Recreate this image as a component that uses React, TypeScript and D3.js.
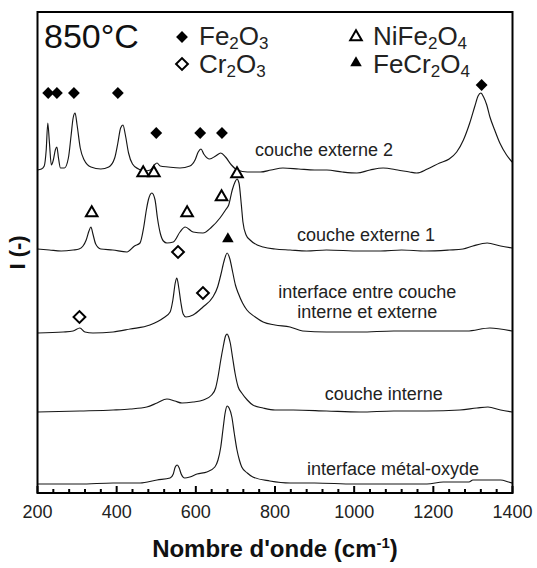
import React from "react";
import * as d3 from "d3";

// ---- data (wavenumber cm-1, stacked intensity a.u.) ----
const externe2: [number, number][] = [
  [200,323],[210,324],[217,327],[222,343],[226,370],[230,351],[235,328],[240,333],[245,343],[249,346],[253,335],[258,325],[268,325],[278,335],[285,358],[290,375],[295,380],[300,368],[308,345],[318,333],[335,326],[360,324],[380,326],[395,335],[403,350],[410,365],[416,368],[422,358],[430,340],[440,329],[455,324],[470,322],[485,323],[495,328],[502,330],[510,327],[530,326],[560,325],[585,327],[598,333],[606,341],[613,344],[620,339],[635,334],[650,337],[663,340],[675,336],[690,328],[705,323],[730,321],[763,321],[790,323],[820,325],[860,324],[900,323],[931,323],[970,321],[1007,320],[1040,323],[1073,325],[1110,323],[1140,321],[1158,320],[1185,324],[1216,330],[1240,334],[1259,341],[1276,353],[1292,370],[1305,387],[1313,397],[1320,400],[1327,396],[1335,388],[1343,376],[1355,363],[1368,350],[1385,338],[1399,331]
];
const externe1: [number, number][] = [
  [200,244],[230,243],[260,242],[290,243],[305,244],[315,247],[323,253],[330,262],[335,266],[340,259],[347,249],[360,244],[390,243],[426,241],[445,247],[459,250],[468,265],[475,283],[480,293],[489,300],[497,293],[503,275],[510,260],[518,252],[527,250],[543,251],[560,261],[573,266],[593,261],[618,260],[640,266],[661,275],[675,283],[683,288],[692,303],[699,311],[704,314],[709,310],[715,288],[719,271],[727,258],[737,253],[755,248],[770,246],[800,244],[838,243],[880,242],[930,243],[1015,242],[1067,242],[1120,243],[1180,242],[1240,243],[1275,244],[1300,247],[1336,250],[1370,247],[1399,245]
];
const interfaceIE: [number, number][] = [
  [200,160],[265,161],[290,162],[307,165],[320,161],[340,160],[391,161],[434,164],[484,168],[518,175],[535,181],[542,193],[548,210],[552,215],[557,205],[562,191],[568,179],[575,176],[593,178],[618,186],[643,196],[655,206],[663,218],[672,233],[679,240],[686,234],[693,221],[700,208],[707,200],[718,190],[729,183],[750,176],[770,171],[800,168],[838,166],[870,162],[930,161],[1015,161],[1100,162],[1184,162],[1285,162],[1343,165],[1399,162]
];
const interne: [number, number][] = [
  [200,81],[307,82],[391,83],[434,84],[476,86],[502,90],[527,94],[547,92],[565,90],[593,91],[619,93],[640,98],[650,105],[656,116],[663,133],[669,146],[675,157],[679,159],[683,156],[687,150],[693,135],[699,120],[707,106],[716,100],[730,93],[744,88],[770,85],[800,83],[846,83],[930,82],[1015,81],[1100,82],[1184,82],[1267,83],[1310,85],[1338,86],[1370,83],[1399,81]
];
const metalOxyde: [number, number][] = [
  [200,9],[307,9],[391,10],[459,10],[502,13],[535,15],[543,19],[548,26],[553,28],[558,25],[563,19],[572,15],[585,16],[603,19],[628,21],[648,26],[656,33],[663,46],[669,65],[674,80],[679,87],[684,85],[691,76],[697,60],[704,43],[710,33],[716,26],[730,20],[744,16],[787,12],[838,10],[900,10],[1000,9],[1100,9],[1184,9],[1225,11],[1290,11],[1300,13],[1370,13],[1390,11],[1399,10]
];
const spectra = [externe2, externe1, interfaceIE, interne, metalOxyde];

const fe2o3Marks: [number, number][] = [[227,400],[249,400],[292,400],[403,400],[500,360],[611,360],[666,360],[1322,408]];
const nife2o4Marks: [number, number][] = [[467,320],[494,320],[704,319],[665,296],[337,280],[578,280]];
const cr2o3Marks: [number, number][] = [[306,176],[555,241],[618,200]];
const fecr2o4Marks: [number, number][] = [[681,254]];

const spectrumLabels: { lines: string[]; x: number; y: number }[] = [
  { lines: ["couche externe 2"], x: 924, y: 337 },
  { lines: ["couche externe 1"], x: 1030, y: 252 },
  { lines: ["interface entre couche", "interne et externe"], x: 1033, y: 195 },
  { lines: ["couche interne"], x: 1075, y: 93 },
  { lines: ["interface métal-oxyde"], x: 1098, y: 18 },
];

const xTicks = [200, 400, 600, 800, 1000, 1200, 1400];
const xDomain: [number, number] = [200, 1400];
const yDomain: [number, number] = [0, 481];

const FONT = "'Liberation Sans', Arial, sans-serif";

export default function App() {
  const W = 537, H = 568;
  const m = { left: 37.5, right: 24.5, top: 12, bottom: 75 };
  const x = d3.scaleLinear().domain(xDomain).range([m.left, W - m.right]);
  const y = d3.scaleLinear().domain(yDomain).range([H - m.bottom, m.top]);
  const line = d3.line<[number, number]>().x(d => x(d[0])).y(d => y(d[1])).curve(d3.curveMonotoneX);
  const minor = d3.range(200, 1401, 40);
  const sq = d3.symbol().type(d3.symbolSquare).size(70)()!;
  const tri = d3.symbol().type(d3.symbolTriangle).size(58)()!;

  const diamond = (cx: number, cy: number, filled: boolean, k: string) => (
    <path key={k} d={sq} transform={`translate(${cx},${cy}) rotate(45)`} fill={filled ? "#000" : "#fff"} stroke="#000" strokeWidth={filled ? 0 : 2} />
  );
  const triangle = (cx: number, cy: number, filled: boolean, k: string) => (
    <path key={k} d={tri} transform={`translate(${cx},${cy})`} fill={filled ? "#000" : "#fff"} stroke="#000" strokeWidth={filled ? 0 : 2} strokeLinejoin="miter" />
  );

  const chem = (parts: [string, boolean][]) =>
    parts.map(([t, s], i) => (
      <tspan key={i} fontSize={s ? 17 : 26} dy={s ? 4 : (i > 0 && parts[i - 1][1] ? -4 : 0)}>{t}</tspan>
    ));

  const lblX = (l: { x: number }) => x(l.x);

  return (
    <svg width={W} height={H} style={{ position: "absolute", left: 0, top: 0, background: "#fff" }} fontFamily={FONT}>
      <rect width={W} height={H} fill="#fff" />
      {spectra.map((s, i) => (
        <path key={i} d={line(s)!} fill="none" stroke="#161616" strokeWidth={1.15} strokeLinejoin="round" />
      ))}
      {minor.map(t => (
        <line key={t} x1={x(t)} x2={x(t)} y1={y(0)} y2={y(0) - (t % 200 === 0 ? 7 : 4)} stroke="#000" strokeWidth={2} />
      ))}
      <rect x={m.left} y={m.top} width={W - m.left - m.right} height={H - m.top - m.bottom} fill="none" stroke="#000" strokeWidth={2} />
      {xTicks.map(t => (
        <text key={t} x={x(t)} y={y(0) + 25} textAnchor="middle" fontSize={18} fill="#222">{t}</text>
      ))}
      <text x={(m.left + W - m.right) / 2} y={557} textAnchor="middle" fontSize={24} fontWeight="bold" fill="#111">
        Nombre d'onde (cm<tspan fontSize={15} dy={-9}>-1</tspan><tspan dy={9}>)</tspan>
      </text>
      <text transform={`translate(25,${(m.top + H - m.bottom) / 2}) rotate(-90)`} textAnchor="middle" fontSize={22} fontWeight="bold" fill="#111">I (-)</text>

      {fe2o3Marks.map((d, i) => diamond(x(d[0]), y(d[1]), true, "fe" + i))}
      {cr2o3Marks.map((d, i) => diamond(x(d[0]), y(d[1]), false, "cr" + i))}
      {nife2o4Marks.map((d, i) => triangle(x(d[0]), y(d[1]), false, "ni" + i))}
      {fecr2o4Marks.map((d, i) => triangle(x(d[0]), y(d[1]), true, "fc" + i))}

      {spectrumLabels.map((l, i) => (
        <text key={i} x={lblX(l)} y={y(l.y)} textAnchor="middle" fontSize={18} fill="#222">
          {l.lines.map((t, j) => (
            <tspan key={j} x={lblX(l)} dy={j === 0 ? 0 : 20}>{t}</tspan>
          ))}
        </text>
      ))}

      <text x={44} y={48} fontSize={34} fill="#111">850°C</text>
      {diamond(182, 37, true, "lg1")}
      <text x={199} y={45} fill="#222">{chem([["Fe", false], ["2", true], ["O", false], ["3", true]])}</text>
      {diamond(182, 64, false, "lg2")}
      <text x={199} y={73} fill="#222">{chem([["Cr", false], ["2", true], ["O", false], ["3", true]])}</text>
      {triangle(356, 37, false, "lg3")}
      <text x={373} y={45} fill="#222">{chem([["NiFe", false], ["2", true], ["O", false], ["4", true]])}</text>
      {triangle(356, 63, true, "lg4")}
      <text x={373} y={73} fill="#222">{chem([["FeCr", false], ["2", true], ["O", false], ["4", true]])}</text>
    </svg>
  );
}
